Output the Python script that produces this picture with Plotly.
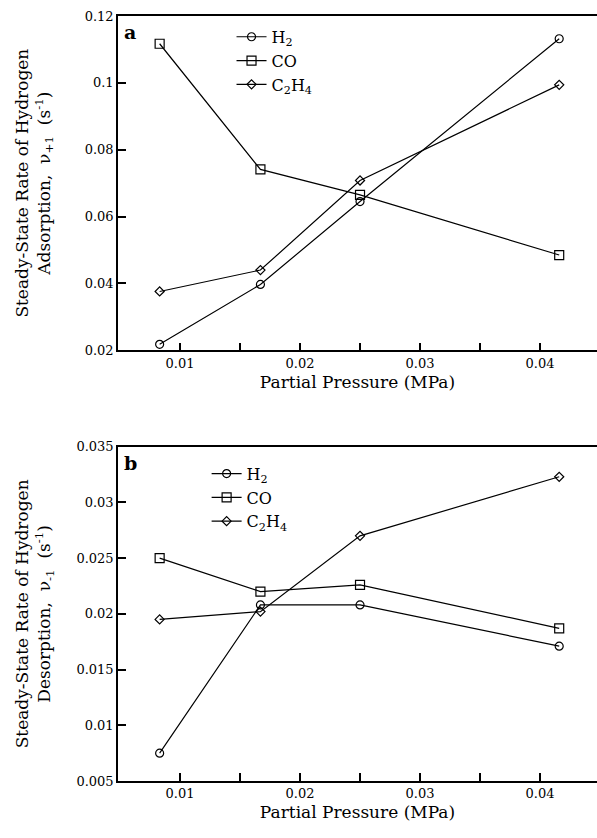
import plotly.graph_objects as go
from plotly.subplots import make_subplots

pressure = [0.0083, 0.0167, 0.025, 0.0416]

ads_h2 = [0.0218, 0.0397, 0.0645, 0.1132]
ads_co = [0.1117, 0.0741, 0.0665, 0.0485]
ads_c2h4 = [0.0376, 0.0440, 0.0708, 0.0994]

des_h2 = [0.0075, 0.0208, 0.0208, 0.0171]
des_co = [0.0250, 0.0220, 0.0226, 0.0187]
des_c2h4 = [0.0195, 0.0202, 0.0270, 0.0323]

names = ["H<sub>2</sub>", "CO", "C<sub>2</sub>H<sub>4</sub>"]
symbols = ["circle-open", "square-open", "diamond-open"]
msize = [8, 9, 7]

FONT = "DejaVu Serif, serif"

fig = make_subplots(rows=2, cols=1, vertical_spacing=0.126)

for i, ys in enumerate([ads_h2, ads_co, ads_c2h4]):
    fig.add_trace(go.Scatter(x=pressure, y=ys, mode="lines+markers", name=names[i],
                             line=dict(color="black", width=1.2),
                             marker=dict(symbol=symbols[i], size=msize[i], color="black",
                                         line=dict(width=1.2, color="black")),
                             legend="legend", cliponaxis=False), row=1, col=1)
for i, ys in enumerate([des_h2, des_co, des_c2h4]):
    fig.add_trace(go.Scatter(x=pressure, y=ys, mode="lines+markers", name=names[i],
                             line=dict(color="black", width=1.2),
                             marker=dict(symbol=symbols[i], size=msize[i], color="black",
                                         line=dict(width=1.2, color="black")),
                             legend="legend2", cliponaxis=False), row=2, col=1)

xcommon = dict(showgrid=False, zeroline=False, showline=True, linecolor="black", linewidth=1.5,
               mirror=True, ticks="inside", ticklen=8, tickwidth=1.5, tickcolor="black",
               tickvals=[0.01, 0.02, 0.03, 0.04], ticktext=["0.01", "0.02", "0.03", "0.04"],
               minor=dict(ticks="inside", ticklen=8, tickwidth=1.5, tickcolor="black",
                          tickvals=[0.015, 0.025, 0.035]),
               tickfont=dict(family=FONT, size=13, color="black"),
               title=dict(text="Partial Pressure (MPa)", font=dict(family=FONT, size=17, color="black"),
                          standoff=6))
fig.update_xaxes(**xcommon)
fig.update_xaxes(range=[0.00483, 0.04475], row=1, col=1)
fig.update_xaxes(range=[0.00483, 0.04475], row=2, col=1)

ycommon = dict(showgrid=False, zeroline=False, showline=True, linecolor="black", linewidth=1.5,
               mirror=False, ticks="inside", ticklen=8, tickwidth=1.5, tickcolor="black",
               tickfont=dict(family=FONT, size=13, color="black"))
fig.update_yaxes(**ycommon)
fig.update_yaxes(range=[0.02, 0.12], tickvals=[0.02, 0.04, 0.06, 0.08, 0.1, 0.12],
                 ticktext=["0.02", "0.04", "0.06", "0.08", "0.1", "0.12"],
                 title=dict(text="Steady-State Rate of Hydrogen<br>Adsorption,  ν<sub>+1</sub>  (s<sup>-1</sup>)",
                            font=dict(family=FONT, size=17, color="black"), standoff=30),
                 row=1, col=1)
fig.update_yaxes(range=[0.005, 0.035], tickvals=[0.005, 0.01, 0.015, 0.02, 0.025, 0.03, 0.035],
                 ticktext=["0.005", "0.01", "0.015", "0.02", "0.025", "0.03", "0.035"],
                 title=dict(text="Steady-State Rate of Hydrogen<br>Desorption,  ν<sub>-1</sub>  (s<sup>-1</sup>)",
                            font=dict(family=FONT, size=17, color="black"), standoff=21),
                 row=2, col=1)

fig.add_annotation(text="<b>a</b>", xref="x domain", yref="y domain", x=0.008, y=0.99,
                   xanchor="left", yanchor="top", showarrow=False,
                   font=dict(family=FONT, size=19, color="black"))
fig.add_annotation(text="<b>b</b>", xref="x2 domain", yref="y2 domain", x=0.008, y=0.99,
                   xanchor="left", yanchor="top", showarrow=False,
                   font=dict(family=FONT, size=19, color="black"))

legfont = dict(family=FONT, size=16, color="black")
fig.update_layout(
    width=597, height=838,
    margin=dict(l=118, r=0, t=16, b=57),
    paper_bgcolor="white", plot_bgcolor="white",
    showlegend=True,
    legend=dict(x=0.237, y=0.995, xanchor="left", yanchor="top", font=legfont,
                bgcolor="rgba(0,0,0,0)", itemwidth=30, tracegroupgap=0),
    legend2=dict(x=0.185, y=0.424, xanchor="left", yanchor="top", font=legfont,
                 bgcolor="rgba(0,0,0,0)", itemwidth=30, tracegroupgap=0),
)

fig.write_html("out.html")
